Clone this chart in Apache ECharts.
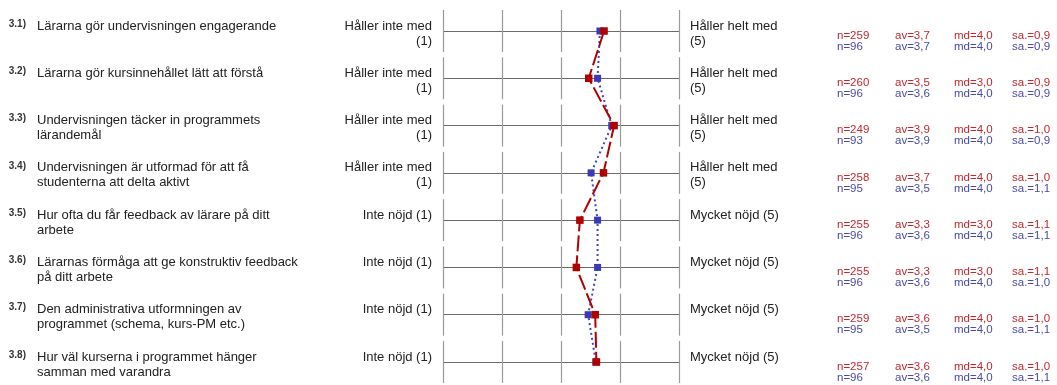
<!DOCTYPE html>
<html>
<head>
<meta charset="utf-8">
<script src="https://cdn.jsdelivr.net/npm/echarts@6/dist/echarts.min.js"></script>
<style>
html,body{margin:0;padding:0;background:#fff;}
#c{width:1057px;height:385px;}
</style>
</head>
<body>
<div id="c"></div>
<script>
// ---- data ----
const numbers = ['3.1)', '3.2)', '3.3)', '3.4)', '3.5)', '3.6)', '3.7)', '3.8)'];
const questions = [
  'Lärarna gör undervisningen engagerande',
  'Lärarna gör kursinnehållet lätt att förstå',
  'Undervisningen täcker in programmets\nlärandemål',
  'Undervisningen är utformad för att få\nstudenterna att delta aktivt',
  'Hur ofta du får feedback av lärare på ditt\narbete',
  'Lärarnas förmåga att ge konstruktiv feedback\npå ditt arbete',
  'Den administrativa utformningen av\nprogrammet (schema, kurs-PM etc.)',
  'Hur väl kurserna i programmet hänger\nsamman med varandra'
];
const leftAnchors = [
  'Håller inte med\n(1)', 'Håller inte med\n(1)', 'Håller inte med\n(1)', 'Håller inte med\n(1)',
  'Inte nöjd (1)', 'Inte nöjd (1)', 'Inte nöjd (1)', 'Inte nöjd (1)'
];
const rightAnchors = [
  'Håller helt med\n(5)', 'Håller helt med\n(5)', 'Håller helt med\n(5)', 'Håller helt med\n(5)',
  'Mycket nöjd (5)', 'Mycket nöjd (5)', 'Mycket nöjd (5)', 'Mycket nöjd (5)'
];
const scaleTicks = [1, 2, 3, 4, 5];

// plotted means
const meanRed  = [3.73, 3.47, 3.90, 3.72, 3.32, 3.26, 3.58, 3.60];
const meanBlue = [3.66, 3.62, 3.86, 3.51, 3.62, 3.62, 3.46, 3.59];

// printed statistics
const nRed   = ['259', '260', '249', '258', '255', '255', '259', '257'];
const avRed  = ['3,7', '3,5', '3,9', '3,7', '3,3', '3,3', '3,6', '3,6'];
const mdRed  = ['4,0', '3,0', '4,0', '4,0', '3,0', '3,0', '4,0', '4,0'];
const saRed  = ['0,9', '0,9', '1,0', '1,0', '1,1', '1,1', '1,0', '1,0'];
const nBlue  = ['96', '96', '93', '95', '96', '96', '95', '96'];
const avBlue = ['3,7', '3,6', '3,9', '3,5', '3,6', '3,6', '3,5', '3,6'];
const mdBlue = ['4,0', '4,0', '4,0', '4,0', '4,0', '4,0', '4,0', '4,0'];
const saBlue = ['0,9', '0,9', '0,9', '1,1', '1,1', '1,0', '1,1', '1,1'];

// ---- chart ----
const FONT = '"Liberation Sans", Arial, sans-serif';
const rows = questions.map((_, i) => i);
const chart = echarts.init(document.getElementById('c'), null, {renderer: 'canvas'});

const segData = [];
rows.forEach(r => scaleTicks.forEach(t => segData.push([t, r])));

chart.setOption({
  animation: false,
  backgroundColor: '#ffffff',
  grid: {left: 443, right: 378, top: 31, bottom: 23},
  xAxis: {
    type: 'value', min: 1, max: 5, interval: 1,
    axisLine: {show: false}, axisTick: {show: false},
    axisLabel: {show: false}, splitLine: {show: false}
  },
  yAxis: {
    type: 'category', data: rows.map(String), inverse: true, boundaryGap: false,
    axisLine: {show: false}, axisTick: {show: false, interval: 0},
    axisLabel: {show: false, interval: 0},
    splitLine: {show: true, interval: 0, lineStyle: {color: '#6a6a6a', width: 1}}
  },
  series: [
    {
      type: 'custom',
      silent: true,
      z: 1,
      data: segData,
      encode: {x: 0, y: 1},
      renderItem: function (params, api) {
        const p = api.coord([api.value(0), api.value(1)]);
        const x = Math.round(p[0]) + 0.5;
        return {
          type: 'line',
          shape: {x1: x, y1: p[1] - 21, x2: x, y2: p[1] + 21},
          style: {stroke: '#9a9a9a', lineWidth: 1.2}
        };
      }
    },
    {
      type: 'line',
      z: 3,
      data: meanBlue.map((v, i) => [v, i]),
      symbol: 'rect', symbolSize: 7,
      itemStyle: {color: '#3a3ab8'},
      lineStyle: {color: '#4444c4', width: 2, type: [2, 3]}
    },
    {
      type: 'line',
      z: 4,
      data: meanRed.map((v, i) => [v, i]),
      symbol: 'rect', symbolSize: 7.5,
      itemStyle: {color: '#b00000'},
      lineStyle: {color: '#b00000', width: 2, type: [16, 4]}
    }
  ]
});

// ---- text columns ----
const g = [];
rows.forEach(i => {
  const y = chart.convertToPixel({seriesIndex: 2}, [1, i])[1];
  const base = {fontFamily: FONT, fontSize: 13, fill: '#222', lineHeight: 15, verticalAlign: 'top'};
  g.push({type: 'text', x: 26, y: y - 12, style: {text: numbers[i], fontFamily: FONT, fontSize: 10, fontWeight: 'bold', fill: '#333', align: 'right', verticalAlign: 'top'}});
  g.push({type: 'text', x: 37, y: y - 12.5, style: Object.assign({text: questions[i], align: 'left'}, base)});
  g.push({type: 'text', x: 432, y: y - 12.5, style: Object.assign({text: leftAnchors[i], align: 'right'}, base)});
  g.push({type: 'text', x: 690, y: y - 12.5, style: Object.assign({text: rightAnchors[i], align: 'left'}, base)});
  const cols = [837, 895, 954, 1012];
  const redTxt = ['n=' + nRed[i], 'av=' + avRed[i], 'md=' + mdRed[i], 'sa.=' + saRed[i]];
  const blueTxt = ['n=' + nBlue[i], 'av=' + avBlue[i], 'md=' + mdBlue[i], 'sa.=' + saBlue[i]];
  cols.forEach((cx, k) => {
    g.push({type: 'text', x: cx, y: y + 4.5, style: {text: redTxt[k], fontFamily: FONT, fontSize: 11.5, fill: '#c0282d', verticalAlign: 'middle'}});
    g.push({type: 'text', x: cx, y: y + 15.5, style: {text: blueTxt[k], fontFamily: FONT, fontSize: 11.5, fill: '#4a4aa8', verticalAlign: 'middle'}});
  });
});
chart.setOption({graphic: g});
</script>
</body>
</html>
